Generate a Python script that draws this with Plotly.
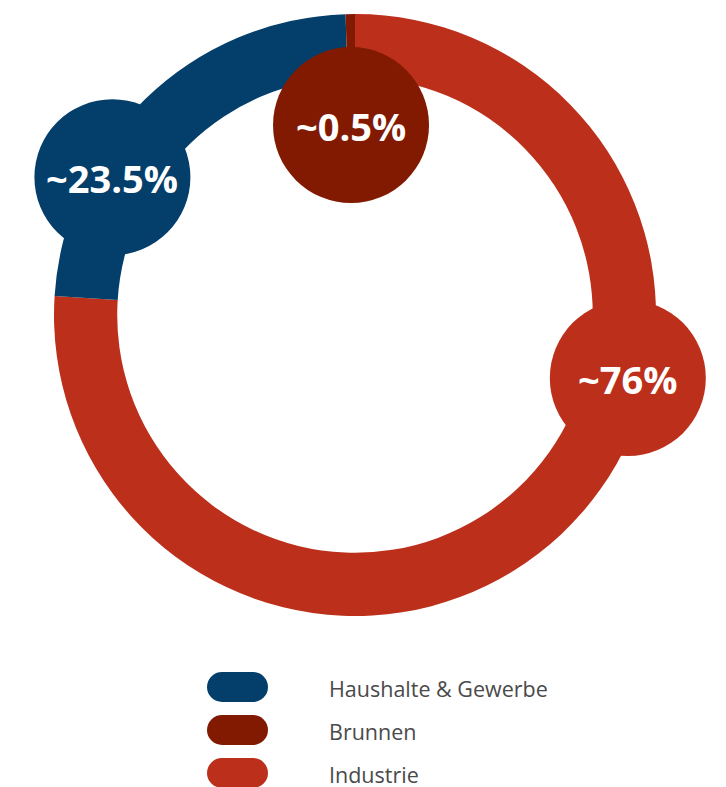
import math
import plotly.graph_objects as go

# Data
categories = ["Haushalte & Gewerbe", "Brunnen", "Industrie"]
values = [23.5, 0.5, 76]
labels = ["~23.5%", "~0.5%", "~76%"]
colors = ["#033f6a", "#821a02", "#bc2f1b"]

# Drawing order of slices (clockwise from 12 o'clock)
pie_order = [2, 0, 1]

OFF = 8  # page body margin
W, H = 726 - OFF, 800
cx, cy, R = 355 - OFF, 315 - OFF, 301
hole = 0.79

fig = go.Figure()
fig.add_trace(go.Pie(
    labels=[categories[i] for i in pie_order],
    values=[values[i] for i in pie_order],
    marker=dict(colors=[colors[i] for i in pie_order], line=dict(width=0)),
    sort=False, direction="clockwise", rotation=0, hole=hole,
    textinfo="none", hoverinfo="skip", showlegend=False,
    domain=dict(x=[(cx - R) / W, (cx + R) / W], y=[1 - (cy + R) / H, 1 - (cy - R) / H]),
))

# invisible pixel-space axes for overlays
fig.add_trace(go.Scatter(x=[0, W], y=[0, H], mode="markers", marker=dict(opacity=0),
                         hoverinfo="skip", showlegend=False))

# label bubble positions (angle clockwise from 12 o'clock, distance from center)
bubble_pos = [(299.6, 279), (-1.2, 190), (103.0, 280)]
bubble_r = 78
shapes = []
annotations = []
for i, (ang, dist) in enumerate(bubble_pos):
    a = math.radians(ang)
    bx = cx + dist * math.sin(a)
    by = cy - dist * math.cos(a)
    shapes.append(dict(type="circle", xref="x", yref="y", x0=bx - bubble_r, x1=bx + bubble_r,
                       y0=by - bubble_r, y1=by + bubble_r, fillcolor=colors[i], line=dict(width=0),
                       layer="above"))
    annotations.append(dict(x=bx, y=by + 1, xref="x", yref="y", text=labels[i], showarrow=False,
                            font=dict(family="Open Sans", size=38, color="white", weight="bold"),
                            xanchor="center", yanchor="middle"))

# custom legend with pill markers
leg_x0, leg_x1, leg_h = 207 - OFF, 268 - OFF, 30
leg_y = [687 - OFF, 730 - OFF, 773 - OFF]
for i, name in enumerate(categories):
    yc = leg_y[i]
    r = leg_h / 2
    shapes.append(dict(type="rect", xref="x", yref="y", x0=leg_x0 + r, x1=leg_x1 - r,
                       y0=yc - r, y1=yc + r, fillcolor=colors[i], line=dict(width=0), layer="above"))
    for ex in (leg_x0, leg_x1 - 2 * r):
        shapes.append(dict(type="circle", xref="x", yref="y", x0=ex, x1=ex + 2 * r,
                           y0=yc - r, y1=yc + r, fillcolor=colors[i], line=dict(width=0), layer="above"))
    annotations.append(dict(x=327 - OFF, y=yc + 1, xref="x", yref="y", text=name, showarrow=False,
                            font=dict(family="Open Sans", size=21.5, color="#4a4a4a"),
                            xanchor="left", yanchor="middle"))

fig.update_layout(
    width=W, height=H, margin=dict(l=0, r=0, t=0, b=0),
    paper_bgcolor="white", plot_bgcolor="rgba(0,0,0,0)",
    xaxis=dict(range=[0, W], visible=False, fixedrange=True),
    yaxis=dict(range=[H, 0], visible=False, fixedrange=True),
    shapes=shapes, annotations=annotations,
)

fig.write_html("out.html")
